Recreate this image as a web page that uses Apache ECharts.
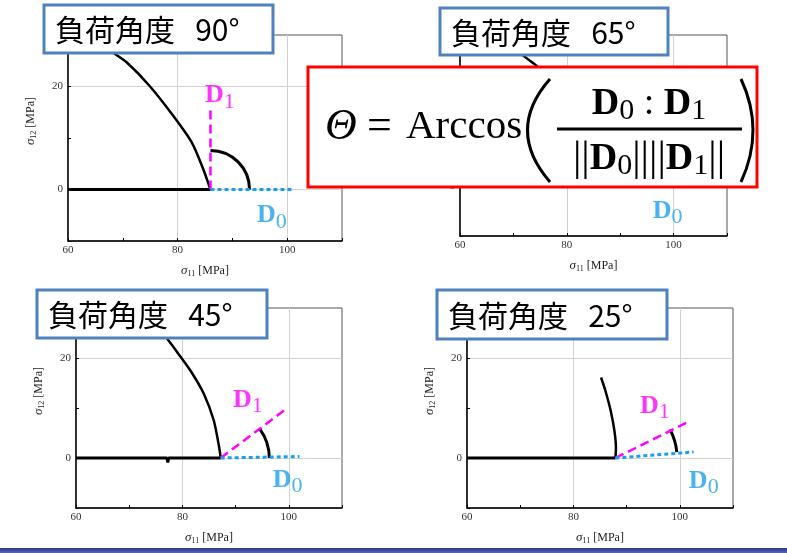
<!DOCTYPE html>
<html>
<head>
<meta charset="utf-8">
<script src="https://cdn.jsdelivr.net/npm/echarts@6/dist/echarts.min.js"></script>
<style>
  html, body { margin: 0; padding: 0; background: #ffffff; }
  #chart { width: 787px; height: 553px; }
</style>
</head>
<body>
<div id="chart"></div>
<script>
// Panel titles: loading angle of each test
const panelTitles = ['負荷角度   90°', '負荷角度   65°', '負荷角度   45°', '負荷角度   25°'];

// Tick labels shown on the axes
const xLabelTicks = [60, 80, 100];
const yLabelTicks = [0, 20];

// Stress path [σ11, σ12] before the change of loading direction
const pathBefore90 = [[60, 0], [86, 0]];
const pathBefore65 = [[60, 0], [86.5, 0]];
const pathBefore45 = [[60, 0], [77.1, 0], [77.25, -0.9], [77.4, 0], [87.2, 0]];
const pathBefore25 = [[60, 0], [87.9, 0]];

// Stress path after the change of loading direction
const pathAfter90 = [[86, 0], [84.7, 3.9], [82.6, 9.1], [79.2, 14.3], [74.9, 20.1], [70.7, 24.7], [68.2, 26.6], [65.5, 28.6]];
const pathAfter65 = [[86.5, 0], [85.6, 4.5], [83.6, 9.8], [80.6, 15], [77.2, 19.8], [74.4, 23.8], [72.7, 25.2], [69.5, 27.8]];
const pathAfter45 = [[87.2, 0], [86.9, 2.2], [85.9, 7.5], [84.0, 12.9], [81.5, 17.5], [79.0, 21.2], [77.4, 23.5], [75.6, 25.8]];
const pathAfter25 = [[87.9, 0], [88.0, 2.0], [87.7, 5.5], [87.0, 9.5], [86.0, 13.5], [85.2, 16.1]];

// Direction vectors D0 (before) and D1 (after), drawn from the switching point
const dirD0_90 = [[86, 0], [101, 0]];
const dirD0_65 = [[86.5, 0], [101.5, 0]];
const dirD0_45 = [[87.2, 0], [102, 0.3]];
const dirD0_25 = [[87.9, 0], [102.6, 1.2]];

const dirD1_90 = [[86, 0], [86, 15.6]];
const dirD1_65 = [[86.5, 0], [95, 13]];
const dirD1_45 = [[87.2, 0], [99.1, 9.5]];
const dirD1_25 = [[87.9, 0], [101.5, 7.2]];

// Angle arcs: [centre σ11, centre σ12, point on D0 σ11, σ12, point on D1 σ11, σ12]
const arc90 = [86, 0, 93.2, 0, 86, 7.5];
const arc65 = [86.5, 0, 94, 0, 90.5, 6.3];
const arc45 = [87.2, 0, 96.7, 0, 94.3, 5.5];
const arc25 = [87.9, 0, 99.5, 1.2, 98.1, 5.7];

// Anchor points of the D0 / D1 labels
const labelD0 = [[97.2, -5.1], [98.9, -5.0], [99.8, -4.4], [104.5, -4.6]];
const labelD1 = [[87.7, 18.2], [93, 16], [92.3, 11.6], [95.3, 10.4]];

const panels = [
  { before: pathBefore90, after: pathAfter90, d0: dirD0_90, d1: dirD1_90, arc: arc90 },
  { before: pathBefore65, after: pathAfter65, d0: dirD0_65, d1: dirD1_65, arc: arc65 },
  { before: pathBefore45, after: pathAfter45, d0: dirD0_45, d1: dirD1_45, arc: arc45 },
  { before: pathBefore25, after: pathAfter25, d0: dirD0_25, d1: dirD1_25, arc: arc25 }
];

const SERIF = '"Liberation Serif", "Times New Roman", serif';
const JP = '"Noto Sans CJK JP", "Noto Sans", sans-serif';
const MAGENTA = '#ff00ff';
const SKY = '#1a9ff0';

const gridBoxes = [
  { left: 68, top: 35, width: 274, height: 206 },
  { left: 460, top: 35, width: 267, height: 201 },
  { left: 76, top: 308, width: 266, height: 200 },
  { left: 467, top: 308, width: 266, height: 200 }
];

const nameRich = {
  i: { fontFamily: SERIF, fontStyle: 'italic', fontSize: 13, color: '#222' },
  sub: { fontFamily: SERIF, fontSize: 8, color: '#222', padding: [7, 0, 0, 0] }
};

function xAxisFor(i) {
  return {
    type: 'value', gridIndex: i, min: 60, max: 110, interval: 10,
    name: '{i|σ}{sub|11} [MPa]', nameLocation: 'middle', nameGap: 22,
    nameTextStyle: { fontFamily: SERIF, fontSize: 12, color: '#222', rich: nameRich },
    axisLine: { show: true, onZero: false, lineStyle: { color: '#000', width: 1.5 } },
    axisTick: { show: true, inside: true, length: 3, lineStyle: { color: '#000' } },
    axisLabel: {
      fontFamily: SERIF, fontSize: 11, color: '#333', margin: 4,
      formatter: v => (xLabelTicks.includes(v) ? String(v) : '')
    },
    splitLine: { show: true, lineStyle: { color: ['#d2d2d2', 'rgba(0,0,0,0)'], width: 1 } }
  };
}

function yAxisFor(i) {
  return {
    type: 'value', gridIndex: i, min: -10, max: 30, interval: 10,
    name: '{i|σ}{sub|12} [MPa]', nameLocation: 'middle', nameGap: 30,
    nameTextStyle: { fontFamily: SERIF, fontSize: 12, color: '#222', rich: nameRich, padding: [0, 0, 0, 34] },
    axisLine: { show: true, onZero: false, lineStyle: { color: '#000', width: 1.5 } },
    axisTick: { show: true, inside: true, length: 3, lineStyle: { color: '#000' } },
    axisLabel: {
      fontFamily: SERIF, fontSize: 11, color: '#333', margin: 5,
      formatter: v => (yLabelTicks.includes(v) ? String(v) : '')
    },
    splitLine: { show: true, lineStyle: { color: ['rgba(0,0,0,0)', '#d2d2d2'], width: 1 } }
  };
}

const dLabelRich = {
  d: { fontFamily: SERIF, fontWeight: 'bold', fontSize: 26, lineHeight: 26 },
  s: { fontFamily: SERIF, fontSize: 22, lineHeight: 22, padding: [12, 0, 0, 0] }
};

function richWithColor(color) {
  return {
    d: Object.assign({}, dLabelRich.d, { color }),
    s: Object.assign({}, dLabelRich.s, { color })
  };
}

const series = [];
panels.forEach((p, i) => {
  const axes = { xAxisIndex: i, yAxisIndex: i };
  series.push(Object.assign({
    type: 'line', data: p.before, showSymbol: false, silent: true,
    lineStyle: { color: '#000', width: 3 }
  }, axes));
  series.push(Object.assign({
    type: 'line', data: p.after, showSymbol: false, silent: true, smooth: 0.25,
    lineStyle: { color: '#000', width: 2.5 }
  }, axes));
  series.push(Object.assign({
    type: 'line', data: p.d1, showSymbol: false, silent: true,
    lineStyle: { color: MAGENTA, width: 2.5, type: [9, 5] }
  }, axes));
  series.push(Object.assign({
    type: 'line', data: p.d0, showSymbol: false, silent: true,
    lineStyle: { color: SKY, width: 3, type: [4, 3] }
  }, axes));
  // angle arc between D0 and D1
  series.push(Object.assign({
    type: 'custom', data: [p.arc], silent: true,
    renderItem: function (params, api) {
      const c = api.coord([api.value(0), api.value(1)]);
      const p0 = api.coord([api.value(2), api.value(3)]);
      const p1 = api.coord([api.value(4), api.value(5)]);
      const r = (Math.hypot(p0[0] - c[0], p0[1] - c[1]) + Math.hypot(p1[0] - c[0], p1[1] - c[1])) / 2;
      const a0 = Math.atan2(p0[1] - c[1], p0[0] - c[0]);
      const a1 = Math.atan2(p1[1] - c[1], p1[0] - c[0]);
      return {
        type: 'arc',
        shape: { cx: c[0], cy: c[1], r: r, startAngle: a1, endAngle: a0, clockwise: true },
        style: { stroke: '#000', lineWidth: 3, fill: null }
      };
    }
  }, axes));
  // direction labels
  series.push(Object.assign({
    type: 'scatter', symbolSize: 1, silent: true, itemStyle: { color: 'rgba(0,0,0,0)' },
    data: [{ value: labelD0[i], name: '0' }],
    label: { show: true, position: 'inside', formatter: '{d|D}{s|0}', rich: richWithColor(SKY) }
  }, axes));
  series.push(Object.assign({
    type: 'scatter', symbolSize: 1, silent: true, itemStyle: { color: 'rgba(0,0,0,0)' },
    data: [{ value: labelD1[i], name: '1' }],
    label: { show: true, position: 'inside', formatter: '{d|D}{s|1}', rich: richWithColor(MAGENTA) }
  }, axes));
});

// Title boxes over each panel
const titleBoxes = [
  { x: 44, y: 5, w: 229, h: 48 },
  { x: 440, y: 8, w: 228, h: 47 },
  { x: 37, y: 290, w: 230, h: 48 },
  { x: 437, y: 290, w: 230, h: 49 }
];
const graphics = [];
titleBoxes.forEach((b, i) => {
  graphics.push({
    type: 'rect', z: 100, silent: true,
    shape: { x: b.x, y: b.y, width: b.w, height: b.h },
    style: { fill: '#fff', stroke: '#4f81bd', lineWidth: 3 }
  });
  graphics.push({
    type: 'text', z: 101, silent: true, x: b.x + 11, y: b.y + b.h / 2 + 1,
    style: { text: panelTitles[i], font: '30px ' + JP, fill: '#000', verticalAlign: 'middle' }
  });
});

// Formula for the angle between D0 and D1
const fRich = {
  d: { fontFamily: SERIF, fontWeight: 'bold', fontSize: 38, lineHeight: 40, color: '#000' },
  s: { fontFamily: SERIF, fontSize: 30, lineHeight: 30, padding: [14, 0, 0, 0], color: '#000' },
  n: { fontFamily: SERIF, fontSize: 38, lineHeight: 40, color: '#000' },
  b: { fontFamily: SERIF, fontSize: 42, lineHeight: 44, color: '#000' }
};
graphics.push(
  {
    type: 'rect', z: 110, silent: true,
    shape: { x: 308, y: 67, width: 449, height: 120 },
    style: { fill: '#fff', stroke: '#ff0000', lineWidth: 3 }
  },
  {
    type: 'text', z: 111, silent: true, x: 325, y: 127,
    style: { text: 'Θ', font: 'italic 44px ' + SERIF, fill: '#000', verticalAlign: 'middle' }
  },
  {
    type: 'text', z: 111, silent: true, x: 367, y: 127,
    style: { text: '=', font: '44px ' + SERIF, fill: '#000', verticalAlign: 'middle' }
  },
  {
    type: 'text', z: 111, silent: true, x: 406, y: 127,
    style: { text: 'Arccos', font: '41px ' + SERIF, fill: '#000', verticalAlign: 'middle' }
  },
  {
    type: 'bezierCurve', z: 111, silent: true,
    shape: { x1: 550, y1: 79, cpx1: 505, cpy1: 130, x2: 550, y2: 182 },
    style: { stroke: '#000', lineWidth: 3, fill: null }
  },
  {
    type: 'bezierCurve', z: 111, silent: true,
    shape: { x1: 741, y1: 79, cpx1: 765, cpy1: 130, x2: 741, y2: 182 },
    style: { stroke: '#000', lineWidth: 3, fill: null }
  },
  {
    type: 'text', z: 111, silent: true, x: 649, y: 104,
    style: { text: '{d|D}{s|0}{n| : }{d|D}{s|1}', rich: fRich, align: 'center', verticalAlign: 'middle' }
  },
  {
    type: 'line', z: 111, silent: true,
    shape: { x1: 557, y1: 129, x2: 742, y2: 129 },
    style: { stroke: '#000', lineWidth: 3 }
  },
  {
    type: 'text', z: 111, silent: true, x: 649, y: 159,
    style: { text: '{b|||}{d|D}{s|0}{b|||||}{d|D}{s|1}{b|||}', rich: fRich, align: 'center', verticalAlign: 'middle' }
  },
  {
    type: 'rect', z: 100, silent: true,
    shape: { x: 0, y: 548, width: 787, height: 5 },
    style: {
      fill: new echarts.graphic.LinearGradient(0, 0, 0, 1, [
        { offset: 0, color: '#2b3886' },
        { offset: 1, color: '#5868b0' }
      ])
    }
  }
);

const chart = echarts.init(document.getElementById('chart'), null, { renderer: 'canvas' });
chart.setOption({
  animation: false,
  backgroundColor: '#ffffff',
  grid: gridBoxes.map(g => Object.assign({
    show: true, borderColor: '#555', borderWidth: 1, backgroundColor: 'rgba(0,0,0,0)',
    containLabel: false, outerBoundsMode: 'none'
  }, g)),
  xAxis: panels.map((p, i) => xAxisFor(i)),
  yAxis: panels.map((p, i) => yAxisFor(i)),
  series: series,
  graphic: { elements: graphics }
});
</script>
</body>
</html>
